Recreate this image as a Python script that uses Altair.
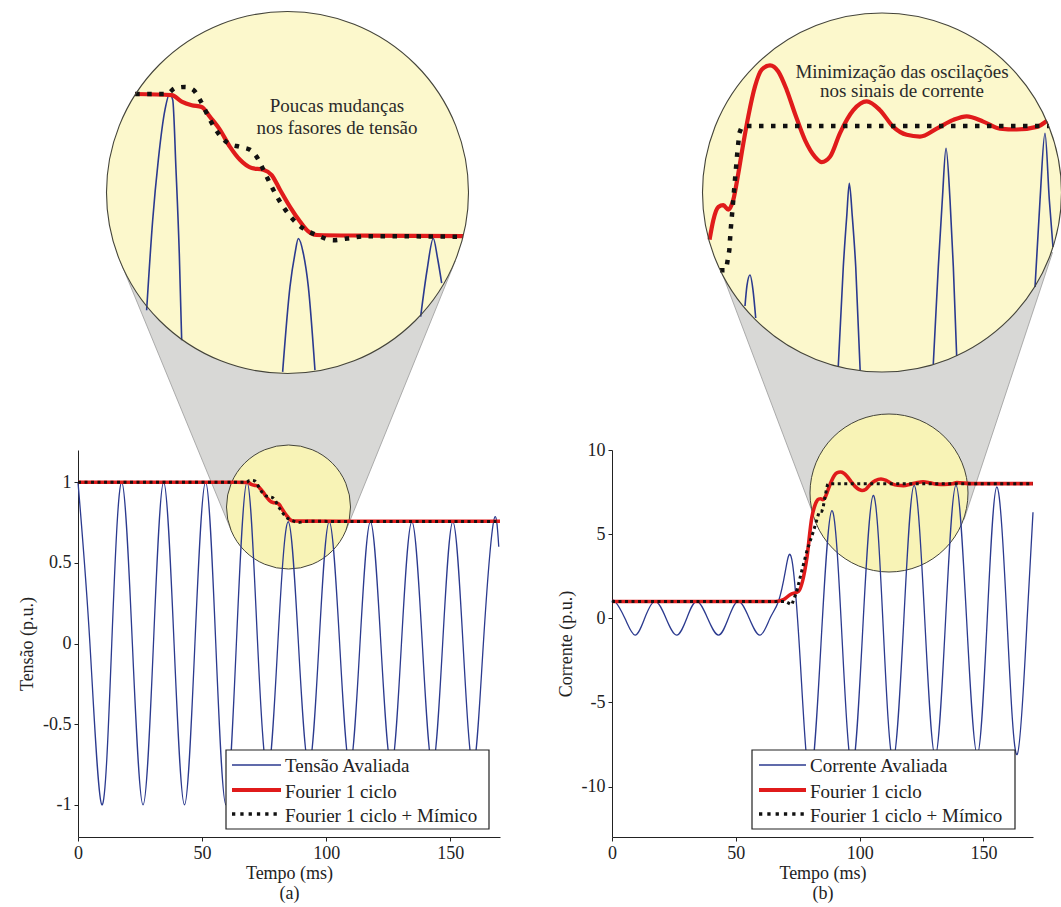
import math
import altair as alt
import pandas as pd

# ---------------- values ----------------
# Panel (a) - voltage (t in ms, v in p.u.)
blue_a_t = [0, 4.8, 9.6, 13.6, 17.6, 21.9, 26.2, 30.4, 34.5, 38.7, 42.9, 47.1, 51.4, 55.5,
            59.6, 63.8, 68.1, 72.2, 76.4, 80.5, 84.7, 88.8, 93.0, 97.1, 101.2, 105.4, 109.5,
            113.6, 117.8, 122.0, 126.2, 130.3, 134.5, 138.7, 142.8, 146.9, 151.0, 155.1,
            159.2, 163.3, 167.4, 169.5]
blue_a_v = [1.0, 0, -1.0, 0, 1.0, 0, -1.0, 0, 1.0, 0, -1.0, 0, 1.0, 0,
            -1.0, 0, 1.0, 0.05, -0.8, 0, 0.755, 0, -0.76, 0, 0.755, 0, -0.76,
            0, 0.755, 0, -0.76, 0, 0.755, 0, -0.76, 0, 0.755, 0,
            -0.76, 0, 0.755, 0.6]
red_a_t = [0, 64.0, 68.56, 69.81, 71.06, 72.31, 73.35, 74.6, 75.85, 77.1, 78.56, 80.01, 81.06,
           82.1, 83.35, 84.6, 85.64, 86.69, 92.94, 105.0, 170]
red_a_v = [1.0, 1.0, 0.998, 0.987, 0.981, 0.978, 0.961, 0.939, 0.910, 0.888, 0.874, 0.871, 0.862,
           0.837, 0.808, 0.783, 0.766, 0.760, 0.759, 0.758, 0.758]
black_a_t = [0, 64.0, 67.94, 68.98, 70.23, 71.26, 72.1, 73.35, 74.39, 75.64, 77.1, 78.35, 79.19,
             80.23, 81.26, 82.51, 83.76, 85.01, 86.69, 88.76, 90.44, 92.94, 105.0, 170]
black_a_v = [1.0, 1.0, 1.0, 1.010, 1.012, 1.007, 0.990, 0.956, 0.933, 0.916, 0.910, 0.905, 0.893,
             0.865, 0.837, 0.808, 0.786, 0.771, 0.760, 0.751, 0.754, 0.758, 0.757, 0.757]
# blue arcs as seen inside the magnified view (a)
za_blue_t = [[65.43, 66.19, 66.89, 67.72, 68.3, 68.69, 69.1, 69.51, 69.81],
             [82.43, 83.35, 83.98, 84.39, 85.01, 85.64, 86.47],
             [99.68, 100.48, 101.26, 101.8, 102.31]]
za_blue_v = [[0.632, 0.786, 0.888, 0.973, 1.0, 0.99, 0.871, 0.729, 0.581],
             [0.527, 0.672, 0.729, 0.754, 0.729, 0.672, 0.530],
             [0.621, 0.700, 0.754, 0.720, 0.678]]

# Panel (b) - current
blue_b_t = [0, 1.2, 5.2, 9.3, 13.2, 17.4, 21.8, 26.1, 30.2, 34.2, 38.6, 43.0, 47.0, 51.0, 55.4,
            59.8, 63.8, 67.2, 70.0, 72.6, 76.0, 80.0, 84.4, 88.8, 92.9, 97.0, 101.2, 105.5, 109.5,
            113.5, 117.8, 122.0, 126.3, 130.5, 134.7, 138.9, 143.2, 147.5, 151.5, 155.4, 159.5,
            163.6, 167.6, 170.0]
blue_b_v = [0.95, 1.0, 0, -1.0, 0, 1.0, 0, -1.0, 0, 1.0, 0, -1.0, 0, 1.0, 0,
            -1.0, 0, 1.0, 2.8, 3.5, -2.5, -9.5, -1.5, 6.4, -1.2, -8.9, -0.8, 7.3, -0.5,
            -8.4, -0.2, 7.9, -0.1, -8.2, -0.1, 7.9, -0.1, -8.1, -0.1, 7.8, -0.1,
            -8.1, -0.15, 6.3]
red_b_t = [0, 66.0, 69.2, 71.9, 75.3, 78.7, 80.7, 81.94, 82.57, 83.42, 84.27, 85.12, 85.96, 86.81,
           87.66, 88.51, 89.65, 90.79, 92.2, 93.6, 95.03, 96.44, 98.14, 99.84, 100.97, 102.38,
           104.08, 106.34, 108.61, 110.87, 113.13, 115.4, 117.66, 120.5, 123.32, 125.59, 128.41,
           131.24, 134.08, 137.48, 139.23, 145.0, 170]
red_b_v = [1.0, 1.0, 1.1, 1.4, 1.6, 3.6, 6.0, 6.71, 6.93, 7.08, 7.10, 7.05, 7.16, 7.46,
           7.80, 8.11, 8.45, 8.64, 8.69, 8.62, 8.41, 8.14, 7.84, 7.65, 7.59, 7.65,
           7.92, 8.18, 8.28, 8.18, 7.99, 7.90, 7.88, 7.97, 8.07, 8.11, 8.05,
           7.97, 7.96, 7.99, 8.06, 8.0, 8.0]
black_b_t = [0, 70.0, 72.6, 74.6, 76.6, 78.7, 81.4, 83.71, 84.73, 85.29, 85.52, 85.86, 86.25,
             86.64, 86.99, 87.39, 87.95, 139.56, 170]
black_b_v = [1.0, 1.0, 0.8, 1.6, 2.8, 4.0, 5.2, 6.36, 6.36, 6.59, 6.82, 7.08, 7.39,
             7.69, 7.92, 7.99, 8.0, 8.0, 8.0]
zb_blue_t = [[87.95, 88.29, 88.8, 89.31, 89.77],
             [103.79, 104.64, 105.22, 105.66, 106.17, 106.75, 107.5],
             [119.92, 120.77, 121.45, 122.08, 122.76, 123.32, 123.89],
             [137.19, 138.04, 138.88, 139.62, 140.24]]
zb_blue_v = [[5.955, 6.19, 6.307, 6.136, 5.818],
             [5.273, 6.401, 6.97, 7.349, 6.97, 6.40, 5.227],
             [5.295, 6.401, 7.159, 7.747, 7.159, 6.401, 5.386],
             [6.17, 7.159, 7.917, 7.159, 6.625]]

tick_x = [0, 50, 100, 150]
tick_a_y = [-1, -0.5, 0, 0.5, 1]
tick_b_y = [-10, -5, 0, 5, 10]
legend_a = ["Tensão Avaliada", "Fourier 1 ciclo", "Fourier 1 ciclo + Mímico"]
legend_b = ["Corrente Avaliada", "Fourier 1 ciclo", "Fourier 1 ciclo + Mímico"]
note_a = ["Poucas mudanças", "nos fasores de tensão"]
note_b = ["Minimização das oscilações", "nos sinais de corrente"]

# ---------------- layout / style ----------------
FONT = "Liberation Serif, Times New Roman, Times, DejaVu Serif, serif"
INK = "#222222"
BLUE = "#2b3a8f"
RED = "#e01b1b"
BLACK = "#111111"
PAGE_W, PAGE_H = 1061, 907
VX0, VY0, VW, VH = 78, 450, 422, 387        # panel (a) plot area on the page
BX0, BX1 = 612, 1033                          # panel (b) plot area x extent

A_BIG = (287.5, 192.5, 181.0)
A_SMALL = (288.5, 507.0, 62.0)
B_BIG = (882.0, 192.5, 179.5)
B_SMALL = (889.0, 493.0, 79.0)

ZA = dict(x0=168.0, t0=68.1, sx=8.0, y0=94.0, v0=1.0, sy=587.5)
ZB = dict(x0=750.0, t0=88.8, sx=5.89, y0=126.0, v0=8.0, sy=88.0)


def px_x():
    return alt.Scale(domain=[0, PAGE_W], range=[-VX0, PAGE_W - VX0], nice=False, zero=False)


def px_y():
    return alt.Scale(domain=[0, PAGE_H], range=[-VY0, PAGE_H - VY0], nice=False, zero=False)


def zoom_scales(z, tdom, vdom):
    xr = [z["x0"] + (t - z["t0"]) * z["sx"] - VX0 for t in tdom]
    yr = [z["y0"] + (z["v0"] - v) * z["sy"] - VY0 for v in vdom]
    return (alt.Scale(domain=tdom, range=xr, nice=False, zero=False),
            alt.Scale(domain=vdom, range=yr, nice=False, zero=False))


A_XS = alt.Scale(domain=[0, 170], range=[0, VW], nice=False, zero=False)
A_YS = alt.Scale(domain=[-1.2, 1.2], range=[VH, 0], nice=False, zero=False)
B_XS = alt.Scale(domain=[0, 170], range=[BX0 - VX0, BX1 - VX0], nice=False, zero=False)
B_YS = alt.Scale(domain=[-13, 10], range=[VH, 0], nice=False, zero=False)
ZA_XS, ZA_YS = zoom_scales(ZA, [60, 106], [0.5, 1.15])
ZB_XS, ZB_YS = zoom_scales(ZB, [80, 143], [5.0, 9.4])


def frame(t, v):
    assert len(t) == len(v)
    return pd.DataFrame({"t": t, "v": v})


def seg_frame(ts, vs):
    rows = []
    for i, (tt, vv) in enumerate(zip(ts, vs)):
        assert len(tt) == len(vv)
        for t, v in zip(tt, vv):
            rows.append({"seg": i, "t": t, "v": v})
    return pd.DataFrame(rows)


def line(data, xs, ys, color, width, interp, dash=None, ax=None, ay=None, filt=None, detail=False):
    mk = dict(color=color, strokeWidth=width, interpolate=interp, clip=False)
    if dash:
        mk["strokeDash"] = dash
    ch = alt.Chart(data).mark_line(**mk)
    if filt:
        ch = ch.transform_filter(alt.FieldRangePredicate(field="t", range=filt))
    enc = dict(x=alt.X("t:Q", scale=xs, axis=ax), y=alt.Y("v:Q", scale=ys, axis=ay))
    if detail:
        enc["detail"] = "seg:N"
    return ch.encode(**enc)


AX = dict(grid=False, tickSize=4, tickColor=INK, domainColor=INK, labelColor=INK,
          titleColor=INK, labelFont=FONT, titleFont=FONT, labelFontSize=18, titleFontSize=18,
          titleFontWeight="normal", labelPadding=3, domainWidth=1, tickWidth=1)


def x_axis(tag):
    return alt.Axis(values=tick_x, title=["Tempo (ms)", tag], orient="bottom", labelFlush=False,
                    titlePadding=2, titleLineHeight=20, **AX)


def y_axis(vals, title, offset=0):
    return alt.Axis(values=vals, title=title, orient="left", labelExpr="'' + datum.value",
                    titlePadding=6, offset=offset, **AX)


# ---------------- magnifier geometry ----------------
def cone_frame(big, small):
    x1, y1, R = big
    x2, y2, r = small
    dx, dy = x2 - x1, y2 - y1
    d = math.hypot(dx, dy)
    ux, uy = dx / d, dy / d
    c = (R - r) / d
    s = math.sqrt(1 - c * c)
    tb, ts = [], []
    for sg in (1, -1):
        nx = ux * c - sg * uy * s
        ny = uy * c + sg * ux * s
        tb.append((x1 + R * nx, y1 + R * ny))
        ts.append((x2 + r * nx, y2 + r * ny))
    return pd.DataFrame([
        {"y": (tb[0][1] + tb[1][1]) / 2, "xl": min(p[0] for p in tb), "xr": max(p[0] for p in tb)},
        {"y": (ts[0][1] + ts[1][1]) / 2, "xl": min(p[0] for p in ts), "xr": max(p[0] for p in ts)},
    ])


def cone(big, small):
    return alt.Chart(cone_frame(big, small)).mark_area(
        orient="horizontal", fill="#d8d8d6", stroke="#9a9a9a", strokeWidth=0.8, clip=False
    ).encode(y=alt.Y("y:Q", scale=px_y(), axis=None),
             x=alt.X("xl:Q", scale=px_x(), axis=None), x2="xr:Q")


def circles(cs, fill, stroke, filled, sw=1.1):
    df = pd.DataFrame([{"cx": c[0], "cy": c[1], "s": (2 * c[2]) ** 2} for c in cs])
    kw = dict(shape="circle", filled=filled, opacity=1, stroke=stroke, strokeWidth=sw, clip=False)
    if filled:
        kw["fill"] = fill
    else:
        kw["fillOpacity"] = 0
    return alt.Chart(df).mark_point(**kw).encode(
        x=alt.X("cx:Q", scale=px_x(), axis=None),
        y=alt.Y("cy:Q", scale=px_y(), axis=None),
        size=alt.Size("s:Q", scale=None))


def legend(x0, x1, sx0, sx1, tx, labels):
    rows_t = [766, 792, 816]
    rows_s = [765, 790, 814]
    box = alt.Chart(pd.DataFrame([{"x": x0, "x2": x1, "y": 750, "y2": 829}])).mark_rect(
        fill="white", stroke=INK, strokeWidth=1.2, clip=False
    ).encode(x=alt.X("x:Q", scale=px_x(), axis=None), x2="x2:Q",
             y=alt.Y("y:Q", scale=px_y(), axis=None), y2="y2:Q")
    out = [box]
    styles = [dict(color=BLUE, strokeWidth=1.3), dict(color=RED, strokeWidth=4),
              dict(color=BLACK, strokeWidth=3.3, strokeDash=[3.3, 5])]
    for yy, st in zip(rows_s, styles):
        out.append(alt.Chart(pd.DataFrame([{"x": sx0, "x2": sx1, "y": yy}])).mark_rule(
            clip=False, **st).encode(x=alt.X("x:Q", scale=px_x(), axis=None), x2="x2:Q",
                                     y=alt.Y("y:Q", scale=px_y(), axis=None)))
    out.append(alt.Chart(pd.DataFrame({"x": [tx] * 3, "y": rows_t, "label": labels})).mark_text(
        align="left", baseline="middle", font=FONT, fontSize=19, color=INK, clip=False
    ).encode(x=alt.X("x:Q", scale=px_x(), axis=None), y=alt.Y("y:Q", scale=px_y(), axis=None),
             text="label:N"))
    return out


def note(cx, ys, lines):
    return alt.Chart(pd.DataFrame({"x": [cx] * len(lines), "y": ys, "label": lines})).mark_text(
        align="center", baseline="middle", font=FONT, fontSize=19, color="#2a2a2a", clip=False
    ).encode(x=alt.X("x:Q", scale=px_x(), axis=None), y=alt.Y("y:Q", scale=px_y(), axis=None),
             text="label:N")


BIG_FILL = "#fcf8cc"
SMALL_FILL = "#f8f3b6"
RING = "#44443a"

layers = []
layers += [cone(A_BIG, A_SMALL), cone(B_BIG, B_SMALL)]
layers += [circles([A_BIG, B_BIG], BIG_FILL, BIG_FILL, True, 0),
           circles([A_SMALL, B_SMALL], SMALL_FILL, SMALL_FILL, True, 0)]

# magnified view (a)
layers += [
    line(seg_frame(za_blue_t, za_blue_v), ZA_XS, ZA_YS, BLUE, 1.6, "monotone", detail=True),
    line(frame(red_a_t, red_a_v), ZA_XS, ZA_YS, RED, 4.2, "monotone", filt=[64.0, 105.0]),
    line(frame(black_a_t, black_a_v), ZA_XS, ZA_YS, BLACK, 4.5, "monotone", dash=[4.5, 7.5],
         filt=[64.0, 105.0]),
]
# magnified view (b)
layers += [
    line(seg_frame(zb_blue_t, zb_blue_v), ZB_XS, ZB_YS, BLUE, 1.6, "monotone", detail=True),
    line(frame(red_b_t, red_b_v), ZB_XS, ZB_YS, RED, 4.2, "monotone", filt=[81.94, 139.23]),
    line(frame(black_b_t, black_b_v), ZB_XS, ZB_YS, BLACK, 4.5, "linear", dash=[4.5, 7.5],
         filt=[83.71, 139.56]),
]
layers += [circles([A_BIG, B_BIG], BIG_FILL, RING, False, 1.1),
           circles([A_SMALL, B_SMALL], SMALL_FILL, RING, False, 1.0)]

# main panel (a)
layers += [
    line(frame(blue_a_t, blue_a_v), A_XS, A_YS, BLUE, 1.3, "natural",
         ax=x_axis("(a)"), ay=y_axis(tick_a_y, "Tensão (p.u.)")),
    line(frame(red_a_t, red_a_v), A_XS, A_YS, RED, 3.6, "monotone"),
    line(frame(black_a_t, black_a_v), A_XS, A_YS, BLACK, 3.0, "monotone", dash=[3, 3.5]),
]
# main panel (b)
layers += [
    line(frame(blue_b_t, blue_b_v), B_XS, B_YS, BLUE, 1.3, "natural",
         ax=x_axis("(b)"), ay=y_axis(tick_b_y, "Corrente (p.u.)", offset=-(BX0 - VX0))),
    line(frame(red_b_t, red_b_v), B_XS, B_YS, RED, 3.6, "monotone"),
    line(frame(black_b_t, black_b_v), B_XS, B_YS, BLACK, 3.0, "linear", dash=[3, 3.5]),
]
layers += legend(226, 489, 232, 281, 285, legend_a)
layers += legend(752, 1015, 759, 806, 810, legend_b)
layers += [note(337, [106, 128], note_a), note(902, [72, 91], note_b)]

chart = alt.layer(*layers).resolve_scale(
    x="independent", y="independent"
).resolve_axis(
    x="independent", y="independent"
).properties(
    width=VW, height=VH,
    padding={"left": VX0, "top": VY0, "right": PAGE_W - VX0 - VW, "bottom": PAGE_H - VY0 - VH},
    autosize=alt.AutoSizeParams(type="none"),
    background="white",
).configure_view(strokeOpacity=0)

chart.save("out.html", embed_options={"renderer": "svg", "actions": False})
